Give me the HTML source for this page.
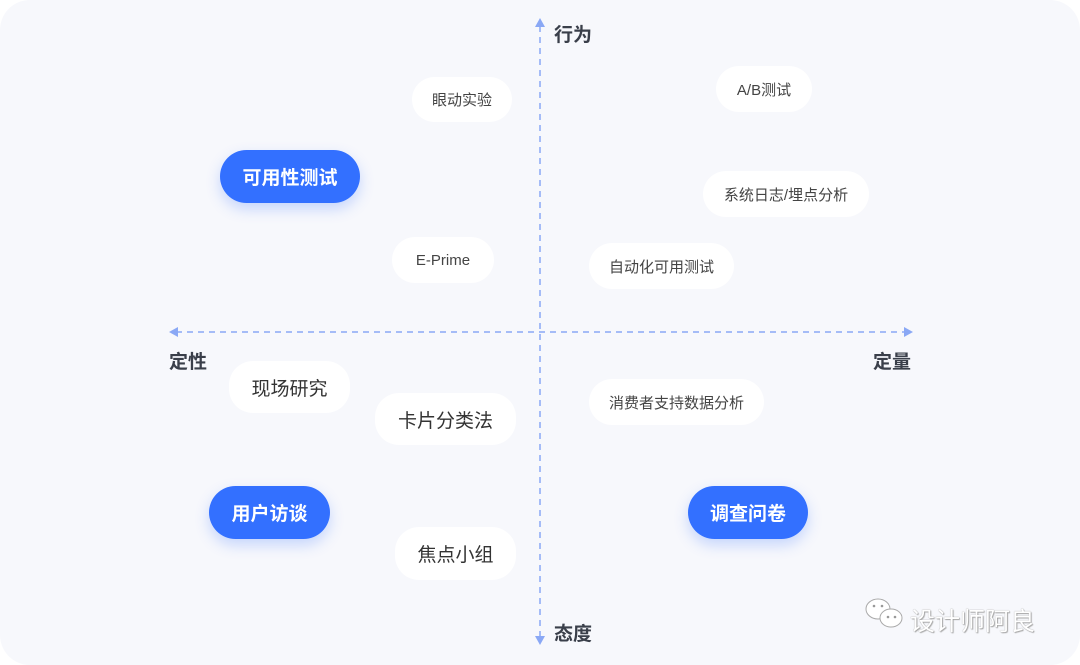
<!DOCTYPE html>
<html><head><meta charset="utf-8"><style>
body{margin:0;width:1080px;height:665px;background:#fff;overflow:hidden;font-family:"Liberation Sans","Noto Sans CJK SC",sans-serif}
.bg{position:absolute;left:0;top:0;width:1080px;height:665px;background:#f7f8fc;border-radius:30px}
.p{position:absolute;background:#fff;border-radius:24px;display:flex;align-items:center;justify-content:center;color:#444;font-size:15px}
.b{background:#3370ff;color:#fff;font-weight:bold;font-size:19px;border-radius:27px;box-shadow:0 6px 14px rgba(51,112,255,.25)}
.l{position:absolute;font-weight:bold;font-size:19px;color:#3a3f4a}
.big{font-size:19px;color:#333}
</style></head><body>
<div class="bg"></div>
<svg width="1080" height="665" style="position:absolute;left:0;top:0">
<line x1="540" y1="26" x2="540" y2="638" stroke="#8aa8f5" stroke-width="1.5" stroke-dasharray="6,5"/>
<line x1="176" y1="332" x2="906" y2="332" stroke="#8aa8f5" stroke-width="1.5" stroke-dasharray="6,5"/>
<polygon points="540,18 535,27 545,27" fill="#8aa8f5"/>
<polygon points="540,645 535,636 545,636" fill="#8aa8f5"/>
<polygon points="169,332 178,327 178,337" fill="#8aa8f5"/>
<polygon points="913,332 904,327 904,337" fill="#8aa8f5"/>
<g fill="#fff" stroke="#aaa" stroke-width="1">
<ellipse cx="878" cy="609" rx="12" ry="10"/>
<ellipse cx="891" cy="618" rx="11" ry="9"/>
</g>
<g fill="#999"><circle cx="874" cy="606" r="1.3"/><circle cx="882" cy="606" r="1.3"/><circle cx="888" cy="617" r="1.3"/><circle cx="895" cy="617" r="1.3"/></g>
</svg>
<div class="l" style="left:554px;top:20px">行为</div>
<div class="l" style="left:554px;top:619px">态度</div>
<div class="l" style="left:169px;top:347px">定性</div>
<div class="l" style="left:873px;top:347px">定量</div>
<div class="p b" style="left:220px;top:150px;width:140px;height:53px">可用性测试</div>
<div class="p b" style="left:209px;top:486px;width:121px;height:53px">用户访谈</div>
<div class="p b" style="left:688px;top:486px;width:120px;height:53px">调查问卷</div>
<div class="p" style="left:412px;top:77px;width:100px;height:45px">眼动实验</div>
<div class="p" style="left:392px;top:237px;width:102px;height:46px">E-Prime</div>
<div class="p" style="left:716px;top:66px;width:96px;height:46px">A/B测试</div>
<div class="p" style="left:703px;top:171px;width:166px;height:46px">系统日志/埋点分析</div>
<div class="p" style="left:589px;top:243px;width:145px;height:46px">自动化可用测试</div>
<div class="p" style="left:589px;top:379px;width:175px;height:46px">消费者支持数据分析</div>
<div class="p big" style="left:229px;top:361px;width:121px;height:52px">现场研究</div>
<div class="p big" style="left:375px;top:393px;width:141px;height:52px">卡片分类法</div>
<div class="p big" style="left:395px;top:527px;width:121px;height:53px">焦点小组</div>
<div style="position:absolute;left:910px;top:602px;font-size:25px;color:#fff;text-shadow:0 0 1px #888,1px 1px 1px #aaa">设计师阿良</div>
</body></html>
